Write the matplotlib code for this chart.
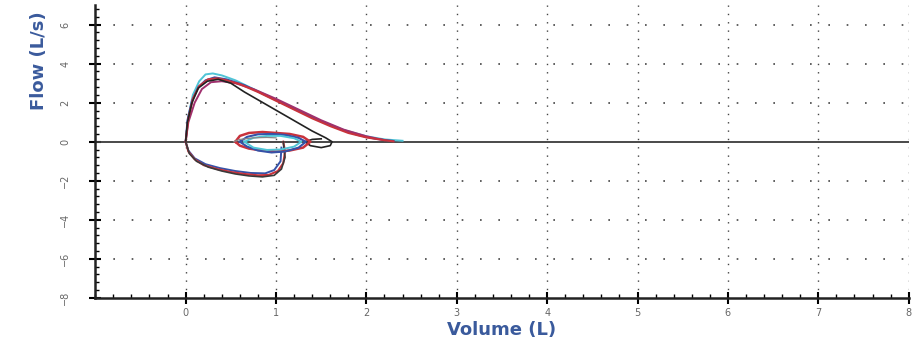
"""Flow-volume loops (spirometry) redrawn from a scanned report."""

import matplotlib

matplotlib.use("Agg")
import matplotlib.pyplot as plt  # noqa: E402
from matplotlib.ticker import MultipleLocator  # noqa: E402

# expiratory limbs, one per trial (volume L, flow L/s)
exp_vol_red = [0, 0.03, 0.08, 0.15, 0.25, 0.35, 0.45, 0.6, 0.8, 1.0, 1.2, 1.4, 1.6, 1.8, 2.0, 2.2, 2.3]
exp_flow_red = [0, 1.2, 2.2, 2.85, 3.2, 3.25, 3.15, 2.95, 2.55, 2.1, 1.65, 1.2, 0.8, 0.45, 0.22, 0.08, 0.02]
exp_vol_cyan = [0, 0.03, 0.08, 0.15, 0.22, 0.3, 0.4, 0.55, 0.75, 1.0, 1.25, 1.5, 1.75, 2.0, 2.2, 2.4]
exp_flow_cyan = [0, 1.3, 2.4, 3.1, 3.45, 3.5, 3.4, 3.15, 2.7, 2.15, 1.6, 1.05, 0.6, 0.28, 0.12, 0.05]
exp_vol_blue = [0, 0.02, 0.07, 0.14, 0.22, 0.32, 0.45, 0.65, 0.9, 1.15, 1.4, 1.65, 1.9, 2.1, 2.3]
exp_flow_blue = [0, 1.1, 2.1, 2.8, 3.15, 3.3, 3.2, 2.9, 2.35, 1.8, 1.25, 0.75, 0.35, 0.15, 0.04]
exp_vol_mag = [0, 0.03, 0.1, 0.18, 0.28, 0.4, 0.55, 0.75, 1.0, 1.25, 1.5, 1.75, 2.0, 2.2]
exp_flow_mag = [0, 1.0, 2.0, 2.7, 3.05, 3.1, 3.0, 2.7, 2.2, 1.65, 1.1, 0.62, 0.28, 0.08]
exp_vol_black = [0, 0.02, 0.07, 0.14, 0.24, 0.36, 0.5, 0.65, 0.8, 0.95, 1.1, 1.25, 1.4, 1.55, 1.62, 1.6, 1.5, 1.38, 1.32, 1.4, 1.5]
exp_flow_black = [0, 1.0, 2.0, 2.75, 3.1, 3.2, 3.0, 2.55, 2.15, 1.75, 1.35, 0.95, 0.55, 0.2, 0.0, -0.2, -0.3, -0.2, 0.0, 0.12, 0.15]

# inspiratory limbs
insp_vol_red = [0, 0.03, 0.1, 0.2, 0.35, 0.5, 0.65, 0.8, 0.92, 1.02, 1.08, 1.1, 1.08]
insp_flow_red = [0, -0.5, -0.9, -1.2, -1.4, -1.55, -1.65, -1.72, -1.7, -1.5, -1.1, -0.5, 0]
insp_vol_black = [0, 0.04, 0.12, 0.25, 0.4, 0.55, 0.7, 0.85, 0.98, 1.06, 1.1, 1.08]
insp_flow_black = [0, -0.6, -1.0, -1.3, -1.5, -1.65, -1.75, -1.8, -1.72, -1.4, -0.8, 0]
insp_vol_blue = [0, 0.03, 0.1, 0.22, 0.38, 0.55, 0.72, 0.88, 0.98, 1.05, 1.06]
insp_flow_blue = [0, -0.45, -0.85, -1.15, -1.35, -1.5, -1.6, -1.62, -1.45, -1.0, -0.3]

# tidal loops
tid_vol_red = [0.55, 0.6, 0.7, 0.85, 1.0, 1.15, 1.3, 1.38, 1.3, 1.15, 1.0, 0.85, 0.7, 0.6, 0.55]
tid_flow_red = [0, 0.3, 0.45, 0.5, 0.45, 0.4, 0.25, 0, -0.3, -0.45, -0.5, -0.45, -0.35, -0.2, 0]
tid_vol_blue = [0.6, 0.68, 0.8, 0.95, 1.1, 1.25, 1.33, 1.25, 1.1, 0.95, 0.8, 0.68, 0.6]
tid_flow_blue = [0, 0.25, 0.38, 0.4, 0.35, 0.2, 0, -0.3, -0.5, -0.55, -0.45, -0.25, 0]
tid_vol_cyan = [0.65, 0.75, 0.9, 1.05, 1.2, 1.28, 1.2, 1.05, 0.9, 0.75, 0.65]
tid_flow_cyan = [0, 0.2, 0.3, 0.3, 0.18, 0, -0.25, -0.4, -0.42, -0.3, 0]
tid_vol_gray = [0.53, 0.6, 0.75, 0.9, 1.0]
tid_flow_gray = [0, 0.12, 0.2, 0.22, 0.2]

fig = plt.figure(figsize=(9.16, 3.42), dpi=100)
ax = fig.add_axes([0.104, 0.129, 0.888, 0.856])

# dotted grid
for v in range(0, 9):
    ax.axvline(v, color="#444444", lw=1.0, linestyle=(0, (1, 5)), zorder=1)
for f in [-6, -4, -2, 2, 4, 6]:
    ax.axhline(f, color="#444444", lw=1.2, linestyle=(0, (1, 10)), zorder=1)
ax.axhline(0, color="#3a3a3a", lw=1.3, zorder=2)

ax.plot(exp_vol_cyan, exp_flow_cyan, color="#4fc4d6", lw=1.4, zorder=3)
ax.plot(exp_vol_blue, exp_flow_blue, color="#3552a8", lw=1.4, zorder=3)
ax.plot(exp_vol_mag, exp_flow_mag, color="#a0306e", lw=1.4, zorder=3)
ax.plot(exp_vol_red, exp_flow_red, color="#c8323c", lw=1.5, zorder=4)
ax.plot(exp_vol_black, exp_flow_black, color="#222222", lw=1.2, zorder=4)
ax.plot(insp_vol_blue, insp_flow_blue, color="#3552a8", lw=1.4, zorder=3)
ax.plot(insp_vol_red, insp_flow_red, color="#c8323c", lw=1.5, zorder=3)
ax.plot(insp_vol_black, insp_flow_black, color="#3a3a3a", lw=1.2, zorder=4)
ax.plot(tid_vol_red, tid_flow_red, color="#c8323c", lw=1.8, zorder=4)
ax.plot(tid_vol_blue, tid_flow_blue, color="#3552a8", lw=1.5, zorder=4)
ax.plot(tid_vol_cyan, tid_flow_cyan, color="#4fc4d6", lw=1.4, zorder=4)
ax.plot(tid_vol_gray, tid_flow_gray, color="#888888", lw=0.9, zorder=4)

ax.set_xlim(-1, 8)
ax.set_ylim(-8, 7)
ax.set_xticks(range(0, 9))
ax.set_yticks(range(-8, 7, 2))
ax.xaxis.set_minor_locator(MultipleLocator(0.2))
ax.yaxis.set_minor_locator(MultipleLocator(0.4))
ax.tick_params(which="major", direction="inout", length=8, width=1.5,
               labelsize=7, labelcolor="#666666")
ax.tick_params(axis="y", which="major", pad=14)
ax.tick_params(which="minor", direction="in", length=3, width=1.0)
for lab in ax.get_yticklabels():
    lab.set_rotation(90)
    lab.set_va("center")

for side in ["top", "right"]:
    ax.spines[side].set_visible(False)
for side in ["left", "bottom"]:
    ax.spines[side].set_linewidth(1.8)
    ax.spines[side].set_color("#222222")

ax.set_xlabel("Volume (L)", fontsize=13, fontweight="bold", color="#3a5a9c", labelpad=2)
ax.set_ylabel("Flow (L/s)", fontsize=13, fontweight="bold", color="#3a5a9c")
ax.yaxis.set_label_coords(-0.058, 0.81)

fig.savefig("out.png", dpi=100)
